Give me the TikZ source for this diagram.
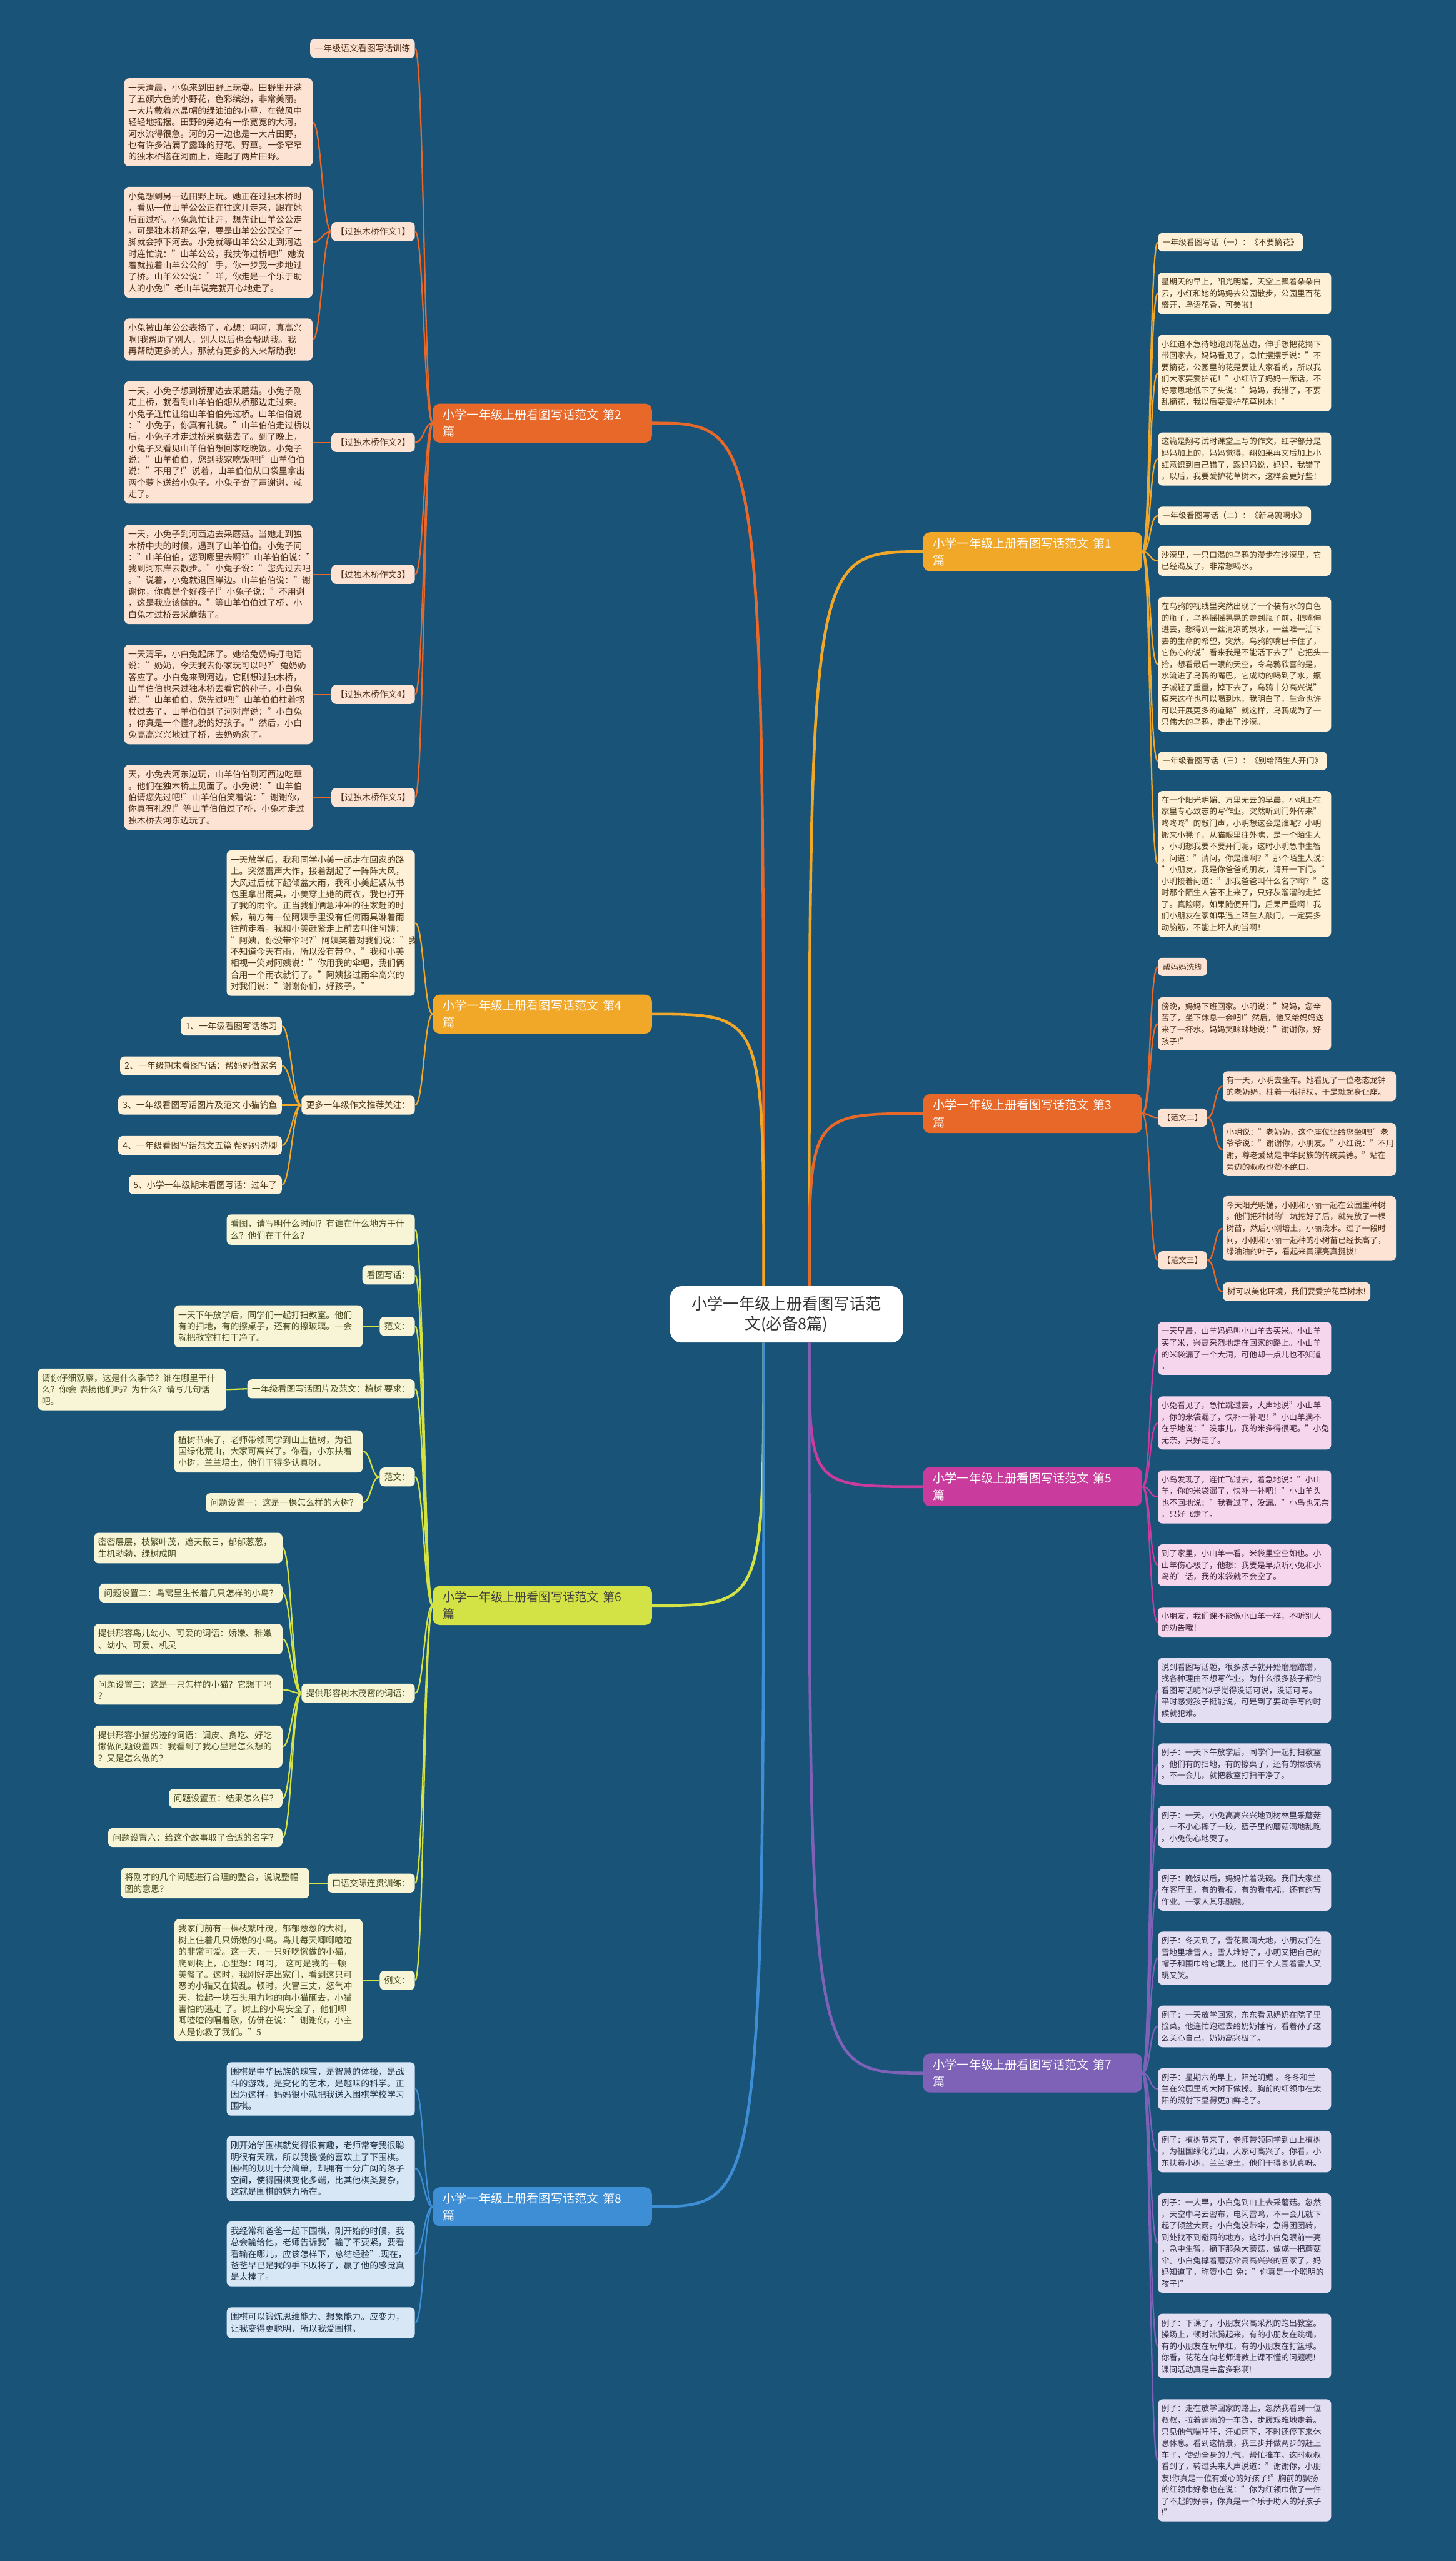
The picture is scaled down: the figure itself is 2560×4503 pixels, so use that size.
\documentclass[tikz,border=0pt]{standalone}
\usepackage{fontspec}
\setmainfont{Noto Sans CJK SC}
\usetikzlibrary{calc}
\definecolor{deepsea}{RGB}{25,83,120}
\definecolor{goldline}{RGB}{241,167,39}
\definecolor{goldfill}{RGB}{254,241,216}
\definecolor{goldtext}{RGB}{75,53,21}
\definecolor{orangeline}{RGB}{232,104,42}
\definecolor{orangefill}{RGB}{253,227,211}
\definecolor{orangetext}{RGB}{74,43,21}
\definecolor{magentaline}{RGB}{201,59,156}
\definecolor{magentafill}{RGB}{245,214,236}
\definecolor{magentatext}{RGB}{63,34,56}
\definecolor{limeline}{RGB}{211,226,68}
\definecolor{limefill}{RGB}{247,245,213}
\definecolor{limetext}{RGB}{71,74,30}
\definecolor{violetline}{RGB}{126,98,184}
\definecolor{violetfill}{RGB}{228,222,242}
\definecolor{violettext}{RGB}{51,43,69}
\definecolor{skyline}{RGB}{62,142,214}
\definecolor{skyfill}{RGB}{216,231,246}
\definecolor{skytext}{RGB}{31,52,72}
\newcommand\sizeL{\fontsize{8.7pt}{11.5pt}\selectfont}
\newcommand\sizeR{\fontsize{8.0pt}{11.6pt}\selectfont}
\newcommand\sizeB{\fontsize{12pt}{17pt}\selectfont}
\newcommand\sizeRoot{\fontsize{15.8pt}{20.5pt}\selectfont}
\tikzset{
  root/.style={
    rounded corners=4mm,
    fill=white,
    text=black!80,
    align=center,
    inner xsep=7.6mm,
    inner ysep=3.4mm,
    font=\sizeRoot
  },
  bnode/.style={
    rounded corners=2.4mm,
    align=left,
    text width=70mm,
    inner xsep=3.5mm,
    inner ysep=1.9mm,
    text=white,
    font=\sizeB
  },
  leaf/.style={
    rounded corners=1.6mm,
    align=left,
    inner xsep=1.6mm,
    inner ysep=1.9mm
  },
  leafL/.style={leaf, font=\sizeL},
  leafR/.style={leaf, font=\sizeR},
  wideL/.style={leafL, text width=63.5mm, inner xsep=1.35mm},
  wideR/.style={leafR, text width=58.6mm, inner xsep=1.15mm},
  gold/.style={fill=goldfill, text=goldtext},
  orange/.style={fill=orangefill, text=orangetext},
  magenta/.style={fill=magentafill, text=magentatext},
  lime/.style={fill=limefill, text=limetext},
  violet/.style={fill=violetfill, text=violettext},
  sky/.style={fill=skyfill, text=skytext},
  mainlink/.style={line width=1mm},
  linkL/.style={line width=0.5mm, out=180, in=0, distance=3mm},
  linkR/.style={line width=0.5mm, out=0, in=180, distance=3mm}
}
\begin{document}
\begin{tikzpicture}[x=0.2mm, y=-0.2mm]
\fill[deepsea] (0,0) rectangle (2560,4503);
\useasboundingbox (0,0) rectangle (2560,4503);

% centre and main branches
\node[root] (ctr) at (1383,2311) {小学一年级上册看图写话范\\文(必备8篇)};
\node[bnode, fill=goldline, anchor=west] (b1) at (1623,970) {小学一年级上册看图写话范文~第1\\篇};
\node[bnode, fill=orangeline, anchor=west] (b2) at (761,744) {小学一年级上册看图写话范文~第2\\篇};
\node[bnode, fill=orangeline, anchor=west] (b3) at (1623,1958) {小学一年级上册看图写话范文~第3\\篇};
\node[bnode, fill=goldline, anchor=west] (b4) at (761,1783) {小学一年级上册看图写话范文~第4\\篇};
\node[bnode, fill=magentaline, anchor=west] (b5) at (1623,2614) {小学一年级上册看图写话范文~第5\\篇};
\node[bnode, fill=limeline, text=black!75, anchor=west] (b6) at (761,2823) {小学一年级上册看图写话范文~第6\\篇};
\node[bnode, fill=violetline, anchor=west] (b7) at (1623,3645) {小学一年级上册看图写话范文~第7\\篇};
\node[bnode, fill=skyline, anchor=west] (b8) at (761,3880) {小学一年级上册看图写话范文~第8\\篇};

\coordinate (tr) at ($(ctr.north)+(40,0)$);
\coordinate (tl) at ($(ctr.north)+(-40,0)$);
\coordinate (br) at ($(ctr.south)+(40,0)$);
\coordinate (bl) at ($(ctr.south)+(-40,0)$);
\draw[mainlink, goldline] (tr) .. controls (tr |- b1.west) .. (b1.west);
\draw[mainlink, orangeline] (tr) .. controls (tr |- b3.west) .. (b3.west);
\draw[mainlink, magentaline] (br) .. controls (br |- b5.west) .. (b5.west);
\draw[mainlink, violetline] (br) .. controls (br |- b7.west) .. (b7.west);
\draw[mainlink, orangeline] (tl) .. controls (tl |- b2.east) .. (b2.east);
\draw[mainlink, goldline] (tl) .. controls (tl |- b4.east) .. (b4.east);
\draw[mainlink, limeline] (bl) .. controls (bl |- b6.east) .. (b6.east);
\draw[mainlink, skyline] (bl) .. controls (bl |- b8.east) .. (b8.east);

% branch 2
\node[leafL, orange, anchor=east] (c21) at (730,85) {一年级语文看图写话训练};
\node[leafL, orange, anchor=east] (c22) at (730,407) {【过独木桥作文1】};
\node[leafL, orange, anchor=east] (c23) at (730,778) {【过独木桥作文2】};
\node[leafL, orange, anchor=east] (c24) at (730,1010) {【过独木桥作文3】};
\node[leafL, orange, anchor=east] (c25) at (730,1221) {【过独木桥作文4】};
\node[leafL, orange, anchor=east] (c26) at (730,1402) {【过独木桥作文5】};
\node[wideL, orange, anchor=east] (a1) at (550,215) {一天清晨，小兔来到田野上玩耍。田野里开满\\了五颜六色的小野花，色彩缤纷，非常美丽。\\一大片戴着水晶帽的绿油油的小草，在微风中\\轻轻地摇摆。田野的旁边有一条宽宽的大河，\\河水流得很急。河的另一边也是一大片田野，\\也有许多沾满了露珠的野花、野草。一条窄窄\\的独木桥搭在河面上，连起了两片田野。};
\node[wideL, orange, anchor=east] (a2) at (550,426) {小兔想到另一边田野上玩。她正在过独木桥时\\，看见一位山羊公公正在往这儿走来，跟在她\\后面过桥。小兔急忙让开，想先让山羊公公走\\。可是独木桥那么窄，要是山羊公公踩空了一\\脚就会掉下河去。小兔就等山羊公公走到河边\\时连忙说："山羊公公，我扶你过桥吧!"她说\\着就拉着山羊公公的'手，你一步我一步地过\\了桥。山羊公公说："咩，你走是一个乐于助\\人的小兔!"老山羊说完就开心地走了。};
\node[wideL, orange, anchor=east] (a3) at (550,597) {小兔被山羊公公表扬了，心想：呵呵，真高兴\\啊!我帮助了别人，别人以后也会帮助我。我\\再帮助更多的人，那就有更多的人来帮助我!};
\node[wideL, orange, anchor=east] (a4) at (550,778) {一天，小兔子想到桥那边去采蘑菇。小兔子刚\\走上桥，就看到山羊伯伯想从桥那边走过来。\\小兔子连忙让给山羊伯伯先过桥。山羊伯伯说\\："小兔子，你真有礼貌。"山羊伯伯走过桥以\\后，小兔子才走过桥采蘑菇去了。到了晚上，\\小兔子又看见山羊伯伯想回家吃晚饭。小兔子\\说："山羊伯伯，您到我家吃饭吧!"山羊伯伯\\说："不用了!"说着，山羊伯伯从口袋里拿出\\两个萝卜送给小兔子。小兔子说了声谢谢，就\\走了。};
\node[wideL, orange, anchor=east] (a5) at (550,1010) {一天，小兔子到河西边去采蘑菇。当她走到独\\木桥中央的时候，遇到了山羊伯伯。小兔子问\\："山羊伯伯，您到哪里去啊?"山羊伯伯说："\\我到河东岸去散步。"小兔子说："您先过去吧\\。"说着，小兔就退回岸边。山羊伯伯说："谢\\谢你，你真是个好孩子!"小兔子说："不用谢\\，这是我应该做的。"等山羊伯伯过了桥，小\\白兔才过桥去采蘑菇了。};
\node[wideL, orange, anchor=east] (a6) at (550,1221) {一天清早，小白兔起床了。她给兔奶妈打电话\\说："奶奶，今天我去你家玩可以吗?"兔奶奶\\答应了。小白兔来到河边，它刚想过独木桥，\\山羊伯伯也来过独木桥去看它的孙子。小白兔\\说："山羊伯伯，您先过吧!"山羊伯伯柱着拐\\杖过去了，山羊伯伯到了河对岸说："小白兔\\，你真是一个懂礼貌的好孩子。"然后，小白\\兔高高兴兴地过了桥，去奶奶家了。};
\node[wideL, orange, anchor=east] (a7) at (550,1402) {天，小兔去河东边玩，山羊伯伯到河西边吃草\\。他们在独木桥上见面了。小兔说："山羊伯\\伯请您先过吧!"山羊伯伯笑着说："谢谢你，\\你真有礼貌!"等山羊伯伯过了桥，小兔才走过\\独木桥去河东边玩了。};
\foreach \k in {c21,c22,c23,c24,c25,c26}
  \draw[linkL, orangeline] (b2.west) to (\k.east);
\foreach \k in {a1,a2,a3}
  \draw[linkL, orangeline] (c22.west) to (\k.east);
\draw[linkL, orangeline] (c23.west) to (a4.east);
\draw[linkL, orangeline] (c24.west) to (a5.east);
\draw[linkL, orangeline] (c25.west) to (a6.east);
\draw[linkL, orangeline] (c26.west) to (a7.east);

% branch 4
\node[wideL, gold, anchor=east] (d1) at (730,1623) {一天放学后，我和同学小美一起走在回家的路\\上。突然雷声大作，接着刮起了一阵阵大风，\\大风过后就下起倾盆大雨，我和小美赶紧从书\\包里拿出雨具，小美穿上她的雨衣，我也打开\\了我的雨伞。正当我们俩急冲冲的往家赶的时\\候，前方有一位阿姨手里没有任何雨具淋着雨\\往前走着。我和小美赶紧走上前去叫住阿姨：\\"阿姨，你没带伞吗?"阿姨笑着对我们说："我\\不知道今天有雨，所以没有带伞。"我和小美\\相视一笑对阿姨说："你用我的伞吧，我们俩\\合用一个雨衣就行了。"阿姨接过雨伞高兴的\\对我们说："谢谢你们，好孩子。"};
\node[leafL, gold, anchor=east] (d2) at (730,1943) {更多一年级作文推荐关注：};
\node[leafL, gold, anchor=east] (e1) at (496,1804) {1、一年级看图写话练习};
\node[leafL, gold, anchor=east] (e2) at (496,1874) {2、一年级期末看图写话：帮妈妈做家务};
\node[leafL, gold, anchor=east] (e3) at (496,1943) {3、一年级看图写话图片及范文 小猫钓鱼};
\node[leafL, gold, anchor=east] (e4) at (496,2014) {4、一年级看图写话范文五篇 帮妈妈洗脚};
\node[leafL, gold, anchor=east] (e5) at (496,2083) {5、小学一年级期末看图写话：过年了};
\draw[linkL, goldline] (b4.west) to (d1.east);
\draw[linkL, goldline] (b4.west) to (d2.east);
\foreach \k in {e1,e2,e3,e4,e5}
  \draw[linkL, goldline] (d2.west) to (\k.east);

% branch 6
\node[wideL, lime, anchor=east] (f1) at (730,2162) {看图，请写明什么时间？有谁在什么地方干什\\么？他们在干什么？};
\node[leafL, lime, anchor=east] (f2) at (730,2242) {看图写话：};
\node[leafL, lime, anchor=east] (f3) at (730,2332) {范文：};
\node[wideL, lime, anchor=east] (f3a) at (638,2332) {一天下午放学后，同学们一起打扫教室。他们\\有的扫地，有的擦桌子，还有的擦玻璃。一会\\就把教室打扫干净了。};
\node[leafL, lime, anchor=east] (f4) at (730,2442) {一年级看图写话图片及范文：植树 要求：};
\node[wideL, lime, anchor=east] (f4a) at (398,2443) {请你仔细观察，这是什么季节？谁在哪里干什\\么？你会~表扬他们吗？为什么？请写几句话\\吧。};
\node[leafL, lime, anchor=east] (f5) at (730,2597) {范文：};
\node[wideL, lime, anchor=east] (f5a) at (638,2552) {植树节来了，老师带领同学到山上植树，为祖\\国绿化荒山，大家可高兴了。你看，小东扶着\\小树，兰兰培土，他们干得多认真呀。};
\node[leafL, lime, anchor=east] (f5b) at (638,2642) {问题设置一：这是一棵怎么样的大树？};
\node[leafL, lime, anchor=east] (f6) at (730,2977) {提供形容树木茂密的词语：};
\node[wideL, lime, anchor=east] (g1) at (497,2722) {密密层层，枝繁叶茂，遮天蔽日，郁郁葱葱，\\生机勃勃，绿树成阴};
\node[leafL, lime, anchor=east] (g2) at (497,2801) {问题设置二：鸟窝里生长着几只怎样的小鸟？};
\node[wideL, lime, anchor=east] (g3) at (497,2882) {提供形容鸟儿幼小、可爱的词语：娇嫩、稚嫩\\、幼小、可爱、机灵};
\node[wideL, lime, anchor=east] (g4) at (497,2971) {问题设置三：这是一只怎样的小猫？它想干吗\\？};
\node[wideL, lime, anchor=east] (g5) at (497,3071) {提供形容小猫劣迹的词语：调皮、贪吃、好吃\\懒做问题设置四：我看到了我心里是怎么想的\\？又是怎么做的？};
\node[leafL, lime, anchor=east] (g6) at (497,3162) {问题设置五：结果怎么样？};
\node[leafL, lime, anchor=east] (g7) at (497,3231) {问题设置六：给这个故事取了合适的名字？};
\node[leafL, lime, anchor=east] (f7) at (730,3311) {口语交际连贯训练：};
\node[wideL, lime, anchor=east] (f7a) at (544,3311) {将刚才的几个问题进行合理的整合，说说整幅\\图的意思？};
\node[leafL, lime, anchor=east] (f8) at (730,3482) {例文：};
\node[wideL, lime, anchor=east] (f8a) at (638,3482) {我家门前有一棵枝繁叶茂，郁郁葱葱的大树，\\树上住着几只娇嫩的小鸟。鸟儿每天唧唧喳喳\\的非常可爱。这一天，一只好吃懒做的小猫，\\爬到树上，心里想：呵呵，~这可是我的一顿\\美餐了。这时，我刚好走出家门，看到这只可\\恶的小猫又在捣乱。顿时，火冒三丈，怒气冲\\天，捡起一块石头用力地的向小猫砸去，小猫\\害怕的逃走~了。树上的小鸟安全了，他们唧\\唧喳喳的唱着歌，仿佛在说："谢谢你，小主\\人是你救了我们。"5};
\foreach \k in {f1,f2,f3,f4,f5,f6,f7,f8}
  \draw[linkL, limeline] (b6.west) to (\k.east);
\draw[linkL, limeline] (f3.west) to (f3a.east);
\draw[linkL, limeline] (f4.west) to (f4a.east);
\draw[linkL, limeline] (f5.west) to (f5a.east);
\draw[linkL, limeline] (f5.west) to (f5b.east);
\foreach \k in {g1,g2,g3,g4,g5,g6,g7}
  \draw[linkL, limeline] (f6.west) to (\k.east);
\draw[linkL, limeline] (f7.west) to (f7a.east);
\draw[linkL, limeline] (f8.west) to (f8a.east);

% branch 8
\node[wideL, sky, anchor=east] (h1) at (730,3673) {围棋是中华民族的瑰宝，是智慧的体操，是战\\斗的游戏，是变化的艺术，是趣味的科学。正\\因为这样。妈妈很小就把我送入围棋学校学习\\围棋。};
\node[wideL, sky, anchor=east] (h2) at (730,3813) {刚开始学围棋就觉得很有趣，老师常夸我很聪\\明很有天赋，所以我慢慢的喜欢上了下围棋。\\围棋的规则十分简单，却拥有十分广阔的落子\\空间，使得围棋变化多端，比其他棋类复杂，\\这就是围棋的魅力所在。};
\node[wideL, sky, anchor=east] (h3) at (730,3963) {我经常和爸爸一起下围棋，刚开始的时候，我\\总会输给他，老师告诉我"输了不要紧，要看\\看输在哪儿，应该怎样下，总结经验".现在，\\爸爸早已是我的手下败将了，赢了他的感觉真\\是太棒了。};
\node[wideL, sky, anchor=east] (h4) at (730,4084) {围棋可以锻炼思维能力、想象能力。应变力，\\让我变得更聪明，所以我爱围棋。};
\foreach \k in {h1,h2,h3,h4}
  \draw[linkL, skyline] (b8.west) to (\k.east);

% branch 1
\node[leafR, gold, anchor=west] (n11) at (2036,426) {一年级看图写话（一）：《不要摘花》};
\node[wideR, gold, anchor=west] (n12) at (2036,516) {星期天的早上，阳光明媚，天空上飘着朵朵白\\云，小红和她的妈妈去公园散步，公园里百花\\盛开，鸟语花香，可美啦！};
\node[wideR, gold, anchor=west] (n13) at (2036,656) {小红迫不急待地跑到花丛边，伸手想把花摘下\\带回家去，妈妈看见了，急忙摆摆手说："不\\要摘花，公园里的花是要让大家看的，所以我\\们大家要爱护花！"小红听了妈妈一席话，不\\好意思地低下了头说："妈妈，我错了，不要\\乱摘花，我以后要爱护花草树木！"};
\node[wideR, gold, anchor=west] (n14) at (2036,807) {这篇是翔考试时课堂上写的作文，红字部分是\\妈妈加上的，妈妈觉得，翔如果再文后加上小\\红意识到自己错了，跟妈妈说，妈妈，我错了\\，以后，我要爱护花草树木，这样会更好些！};
\node[leafR, gold, anchor=west] (n15) at (2036,907) {一年级看图写话（二）：《新乌鸦喝水》};
\node[wideR, gold, anchor=west] (n16) at (2036,986) {沙漠里，一只口渴的乌鸦的漫步在沙漠里，它\\已经渴及了，非常想喝水。};
\node[wideR, gold, anchor=west] (n17) at (2036,1168) {在乌鸦的视线里突然出现了一个装有水的白色\\的瓶子，乌鸦摇摇晃晃的走到瓶子前，把嘴伸\\进去，想得到一丝清凉的泉水，一丝唯一活下\\去的生命的希望，突然，乌鸦的嘴巴卡住了，\\它伤心的说"看来我是不能活下去了"它把头一\\抬，想看最后一眼的天空，令乌鸦欣喜的是，\\水流进了乌鸦的嘴巴，它成功的喝到了水，瓶\\子减轻了重量，掉下去了，乌鸦十分高兴说"\\原来这样也可以喝到水，我明白了，生命也许\\可以开展更多的道路"就这样，乌鸦成为了一\\只伟大的乌鸦，走出了沙漠。};
\node[leafR, gold, anchor=west] (n18) at (2036,1338) {一年级看图写话（三）：《别给陌生人开门》};
\node[wideR, gold, anchor=west] (n19) at (2036,1519) {在一个阳光明媚、万里无云的早晨，小明正在\\家里专心致志的写作业，突然听到门外传来"\\咚咚咚"的敲门声，小明想这会是谁呢？小明\\搬来小凳子，从猫眼里往外瞧，是一个陌生人\\。小明想我要不要开门呢，这时小明急中生智\\，问道："请问，你是谁啊？"那个陌生人说：\\"小朋友，我是你爸爸的朋友，请开一下门。"\\小明接着问道："那我爸爸叫什么名字啊？"这\\时那个陌生人答不上来了，只好灰溜溜的走掉\\了。真险啊，如果随便开门，后果严重啊！我\\们小朋友在家如果遇上陌生人敲门，一定要多\\动脑筋，不能上坏人的当啊！};
\foreach \k in {n11,n12,n13,n14,n15,n16,n17,n18,n19}
  \draw[linkR, goldline] (b1.east) to (\k.west);

% branch 3
\node[leafR, orange, anchor=west] (k1) at (2036,1700) {帮妈妈洗脚};
\node[wideR, orange, anchor=west] (k2) at (2036,1800) {傍晚，妈妈下班回家。小明说："妈妈，您辛\\苦了，坐下休息一会吧!"然后，他又给妈妈送\\来了一杯水。妈妈笑眯眯地说："谢谢你，好\\孩子!"};
\node[leafR, orange, anchor=west] (k3) at (2036,1965) {【范文二】};
\node[wideR, orange, anchor=west] (k3a) at (2150,1910) {有一天，小明去坐车。她看见了一位老态龙钟\\的老奶奶，柱着一根拐杖，于是就起身让座。};
\node[wideR, orange, anchor=west] (k3b) at (2150,2021) {小明说："老奶奶，这个座位让给您坐吧!"老\\爷爷说："谢谢你，小朋友。"小红说："不用\\谢，尊老爱幼是中华民族的传统美德。"站在\\旁边的叔叔也赞不绝口。};
\node[leafR, orange, anchor=west] (k4) at (2036,2216) {【范文三】};
\node[wideR, orange, anchor=west] (k4a) at (2150,2160) {今天阳光明媚，小刚和小丽一起在公园里种树\\。他们把种树的'坑挖好了后，就先放了一棵\\树苗，然后小刚培土，小丽浇水。过了一段时\\间，小刚和小丽一起种的小树苗已经长高了，\\绿油油的叶子，看起来真漂亮真挺拔!};
\node[leafR, orange, anchor=west] (k4b) at (2150,2271) {树可以美化环境，我们要爱护花草树木!};
\foreach \k in {k1,k2,k3,k4}
  \draw[linkR, orangeline] (b3.east) to (\k.west);
\draw[linkR, orangeline] (k3.east) to (k3a.west);
\draw[linkR, orangeline] (k3.east) to (k3b.west);
\draw[linkR, orangeline] (k4.east) to (k4a.west);
\draw[linkR, orangeline] (k4.east) to (k4b.west);

% branch 5
\node[wideR, magenta, anchor=west] (m1) at (2036,2371) {一天早晨，山羊妈妈叫小山羊去买米。小山羊\\买了米，兴高采烈地走在回家的路上。小山羊\\的米袋漏了一个大洞，可他却一点儿也不知道\\。};
\node[wideR, magenta, anchor=west] (m2) at (2036,2502) {小兔看见了，急忙跳过去，大声地说"小山羊\\，你的米袋漏了，快补一补吧！"小山羊满不\\在乎地说："没事儿，我的米多得很呢。"小兔\\无奈，只好走了。};
\node[wideR, magenta, anchor=west] (m3) at (2036,2632) {小鸟发现了，连忙飞过去，着急地说："小山\\羊，你的米袋漏了，快补一补吧！"小山羊头\\也不回地说："我看过了，没漏。"小鸟也无奈\\，只好飞走了。};
\node[wideR, magenta, anchor=west] (m4) at (2036,2752) {到了家里，小山羊一看，米袋里空空如也。小\\山羊伤心极了，他想：我要是早点听小兔和小\\鸟的'话，我的米袋就不会空了。};
\node[wideR, magenta, anchor=west] (m5) at (2036,2852) {小朋友，我们课不能像小山羊一样，不听别人\\的劝告哦！};
\foreach \k in {m1,m2,m3,m4,m5}
  \draw[linkR, magentaline] (b5.east) to (\k.west);

% branch 7
\node[wideR, violet, anchor=west] (p1) at (2036,2972) {说到看图写话题，很多孩子就开始磨磨蹭蹭，\\找各种理由不想写作业。为什么很多孩子都怕\\看图写话呢?似乎觉得没话可说，没话可写。\\平时感觉孩子挺能说，可是到了要动手写的时\\候就犯难。};
\node[wideR, violet, anchor=west] (p2) at (2036,3102) {例子：一天下午放学后，同学们一起打扫教室\\。他们有的扫地，有的擦桌子，还有的擦玻璃\\。不一会儿，就把教室打扫干净了。};
\node[wideR, violet, anchor=west] (p3) at (2036,3212) {例子：一天，小兔高高兴兴地到树林里采蘑菇\\。一不小心摔了一跤，篮子里的蘑菇满地乱跑\\。小兔伤心地哭了。};
\node[wideR, violet, anchor=west] (p4) at (2036,3323) {例子：晚饭以后，妈妈忙着洗碗。我们大家坐\\在客厅里，有的看报，有的看电视，还有的写\\作业。一家人其乐融融。};
\node[wideR, violet, anchor=west] (p5) at (2036,3443) {例子：冬天到了，雪花飘满大地，小朋友们在\\雪地里堆雪人。雪人堆好了，小明又把自己的\\帽子和围巾给它戴上。他们三个人围着雪人又\\跳又笑。};
\node[wideR, violet, anchor=west] (p6) at (2036,3563) {例子：一天放学回家，东东看见奶奶在院子里\\捡菜。他连忙跑过去给奶奶捶背，看着孙子这\\么关心自己，奶奶高兴极了。};
\node[wideR, violet, anchor=west] (p7) at (2036,3673) {例子：星期六的早上，阳光明媚~。冬冬和兰\\兰在公园里的大树下做操。胸前的红领巾在太\\阳的照射下显得更加鲜艳了。};
\node[wideR, violet, anchor=west] (p8) at (2036,3783) {例子：植树节来了，老师带领同学到山上植树\\，为祖国绿化荒山，大家可高兴了。你看，小\\东扶着小树，兰兰培土，他们干得多认真呀。};
\node[wideR, violet, anchor=west] (p9) at (2036,3944) {例子：一大早，小白兔到山上去采蘑菇。忽然\\，天空中乌云密布，电闪雷鸣，不一会儿就下\\起了倾盆大雨。小白兔没带伞，急得团团转，\\到处找不到避雨的地方。这时小白兔眼前一亮\\，急中生智，摘下那朵大蘑菇，做成一把蘑菇\\伞。小白兔撑着蘑菇伞高高兴兴的回家了，妈\\妈知道了，称赞小白~兔："你真是一个聪明的\\孩子!"};
\node[wideR, violet, anchor=west] (p10) at (2036,4125) {例子：下课了，小朋友兴高采烈的跑出教室。\\操场上，顿时沸腾起来，有的小朋友在跳绳，\\有的小朋友在玩单杠，有的小朋友在打篮球。\\你看，花花在向老师请教上课不懂的问题呢!\\课间活动真是丰富多彩啊!};
\node[wideR, violet, anchor=west] (p11) at (2036,4326) {例子：走在放学回家的路上，忽然我看到一位\\叔叔，拉着满满的一车货，步履艰难地走着。\\只见他气喘吁吁，汗如雨下，不时还停下来休\\息休息。看到这情景，我三步并做两步的赶上\\车子，使劲全身的力气，帮忙推车。这时叔叔\\看到了，转过头来大声说道："谢谢你，小朋\\友!你真是一位有爱心的好孩子!"胸前的飘扬\\的红领巾好象也在说："你为红领巾做了一件\\了不起的好事，你真是一个乐于助人的好孩子\\!"};
\foreach \k in {p1,p2,p3,p4,p5,p6,p7,p8,p9,p10,p11}
  \draw[linkR, violetline] (b7.east) to (\k.west);
\end{tikzpicture}
\end{document}
